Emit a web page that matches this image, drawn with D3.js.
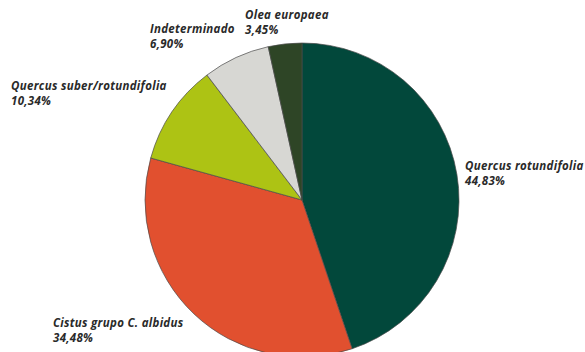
<!DOCTYPE html>
<html>
<head>
<meta charset="utf-8">
<script src="https://cdn.jsdelivr.net/npm/d3@7"></script>
<style>
  body { margin: 0; background: #fff; }
  .pie-label { font-family: "Open Sans", sans-serif; font-weight: bold; font-style: italic; font-size: 11.5px; letter-spacing: 0.3px; fill: #2a2a2a; }
</style>
</head>
<body>
<div id="chart"></div>
<script>
const categories = [`Quercus rotundifolia`, `Cistus grupo C. albidus`, `Quercus suber/rotundifolia`, `Indeterminado`, `Olea europaea`];
const values = [44.83, 34.48, 10.34, 6.90, 3.45];
const valueLabels = [`44,83%`, `34,48%`, `10,34%`, `6,90%`, `3,45%`];
const colors = [`#02483b`, `#e1502f`, `#adc314`, `#d7d7d3`, `#2e4526`];

// label anchor points (baseline of first line)
const labelPos = [[465, 170], [53, 327], [11, 90], [150, 33], [245, 19]];

const width = 585, height = 352;
const cx = 302, cy = 200, radius = 157;

const svg = d3.select(`#chart`).append(`svg`)
  .attr(`width`, width)
  .attr(`height`, height);

const pie = d3.pie().sort(null).value(d => d);
const arc = d3.arc().innerRadius(0).outerRadius(radius);

const g = svg.append(`g`).attr(`transform`, `translate(${cx},${cy})`);

g.selectAll(`path`)
  .data(pie(values))
  .enter().append(`path`)
    .attr(`d`, arc)
    .attr(`fill`, (d, i) => colors[i])
    .attr(`stroke`, `#4a4a4a`)
    .attr(`stroke-width`, 0.7);

const labels = svg.selectAll(`.pie-label`)
  .data(categories)
  .enter().append(`text`)
    .attr(`class`, `pie-label`)
    .attr(`x`, (d, i) => labelPos[i][0])
    .attr(`y`, (d, i) => labelPos[i][1]);

labels.append(`tspan`).text(d => d);
labels.append(`tspan`)
  .attr(`x`, (d, i) => labelPos[i][0])
  .attr(`dy`, 15)
  .text((d, i) => valueLabels[i]);
</script>
</body>
</html>
